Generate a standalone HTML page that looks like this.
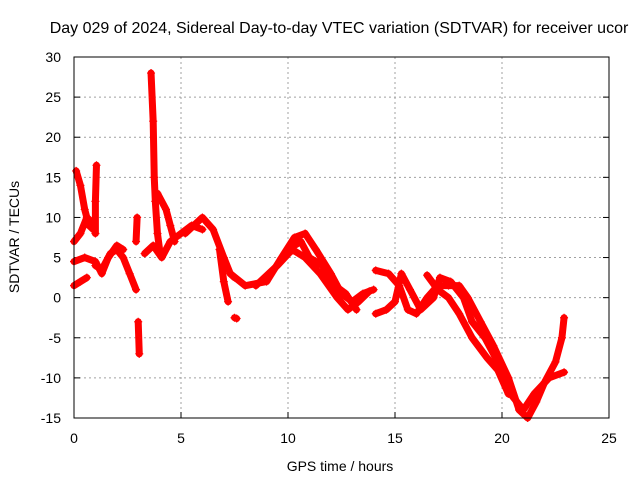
<!DOCTYPE html>
<html><head><meta charset="utf-8"><style>
body{margin:0;background:#fff}
svg{display:block;font-family:"Liberation Sans",sans-serif;font-size:14px}
</style></head><body>
<svg id="chart" width="640" height="480">
<text x="339" y="33" text-anchor="middle" font-size="16">Day 029 of 2024, Sidereal Day-to-day VTEC variation (SDTVAR) for receiver ucor</text>
<g id="grid"></g><g id="axes"></g><g id="series"></g>
<rect x="74" y="57" width="535" height="361" fill="none" stroke="#000" stroke-width="1"/>
<text x="340" y="471" text-anchor="middle">GPS time / hours</text>
<text transform="translate(19,237) rotate(-90)" text-anchor="middle">SDTVAR / TECUs</text>
</svg>
<script>
const xTicks=[0,5,10,15,20,25];
const yTicks=[-15,-10,-5,0,5,10,15,20,25,30];
const s1=[[7.3,3],[8,1.5],[9,2],[9.7,5],[10.3,7.5],[10.8,8],[11.3,6],[12,3],[12.5,0.5],[13,-0.5],[13.5,0.5],[14,1]];
const s2=[[8.5,1.5],[9.5,4],[10.2,6],[10.8,5],[11.5,3],[12.3,0],[12.8,-1.5],[13.3,-0.5],[13.8,0.8]];
const s3=[[14.1,3.4],[14.7,3],[15.2,1.5],[15.6,-1.5],[16,-2],[16.5,0],[17,1.5],[17.5,1.5],[18,1.5],[18.4,0],[19,-3],[19.6,-6],[20.3,-10],[20.8,-14],[21.2,-15],[21.6,-13],[22,-10.5],[22.5,-8],[22.8,-5],[22.9,-2.5]];
const s4=[[14.1,-2],[14.6,-1.5],[15,-0.5],[15.3,3],[15.7,1],[16.2,-1.5],[16.8,0],[17.1,2.5],[17.6,2],[18.2,0],[18.6,-3],[19.2,-5],[19.8,-8],[20.4,-12],[21,-14],[21.5,-12],[22.2,-10],[22.9,-9.3]];
const s5=[[16.5,2.8],[17,1],[17.5,0],[18,-2],[18.6,-5],[19.3,-7.5],[19.8,-9],[20.3,-12]];
const s6=[[10,6],[10.6,7],[11,5],[11.6,4],[12.2,1.5],[12.7,0.5],[13.2,-1.5]];
const s7=[[0.1,15.8],[0.3,14],[0.5,11],[0.7,9],[0.9,8.5]];
const s8=[[0,7],[0.3,8],[0.6,10],[0.8,9.5]];
const s9=[[0,4.5],[0.5,5],[1,4.5],[1.3,3],[1.6,5],[2,6.5],[2.3,6]];
const s10=[[0,1.5],[0.3,2],[0.6,2.5]];
const s11=[[1,8],[1,12],[1.05,16.5]];
const s12=[[1,4],[1.3,3.5],[1.7,5.5],[2,6],[2.3,5],[2.6,3],[2.9,1]];
const s13=[[2.9,7],[2.95,10]];
const s14=[[3,-3],[3.05,-7]];
const s15=[[3.6,28],[3.7,22],[3.75,15],[3.8,12],[3.9,8],[4,6]];
const s16=[[3.3,5.5],[3.7,6.5],[4.1,5],[4.5,7],[5,8],[5.5,9],[6,8.5]];
const s17=[[3.9,13],[4.3,11],[4.5,9],[4.7,7]];
const s18=[[5.2,8],[6,10],[6.5,8.5],[7,5],[7.3,3],[7.5,2.5]];
const s19=[[6.8,6],[7,2],[7.2,-0.5]];
const s20=[[7.5,-2.5],[7.6,-2.6]];
const allSeries=[s1,s2,s3,s4,s5,s6,s7,s8,s9,s10,s11,s12,s13,s14,s15,s16,s17,s18,s19,s20];
const NS="http://www.w3.org/2000/svg";
const X=v=>74+v*(535/25), Y=v=>418-(v+15)*(361/45);
const grid=document.getElementById('grid'),axes=document.getElementById('axes'),ser=document.getElementById('series');
function mk(t,a,p){const e=document.createElementNS(NS,t);for(const k in a)e.setAttribute(k,a[k]);p.appendChild(e);return e;}
xTicks.forEach(t=>{
 if(t>0&&t<25){const g=mk('line',{x1:X(t),x2:X(t),y1:57,y2:418,stroke:'#a0a0a0','stroke-dasharray':'2,3'},grid);
 
 }
 mk('line',{x1:X(t),x2:X(t),y1:418,y2:412,stroke:'#000'},axes);
 const l=mk('text',{x:X(t),y:443,'text-anchor':'middle'},axes);l.textContent=t;
 
 
});
yTicks.forEach(t=>{
 if(t>-15&&t<30){const g=mk('line',{x1:74,x2:609,y1:Y(t),y2:Y(t),stroke:'#a0a0a0','stroke-dasharray':'2,3'},grid);
 
 }
 mk('line',{x1:74,x2:80,y1:Y(t),y2:Y(t),stroke:'#000'},axes);
 mk('line',{x1:609,x2:603,y1:Y(t),y2:Y(t),stroke:'#000'},axes);
 const l=mk('text',{x:61,y:Y(t)+5,'text-anchor':'end'},axes);l.textContent=t;
 
 
});
allSeries.forEach((s,i)=>{
 const p=mk('polyline',{points:s.map(d=>X(d[0])+','+Y(d[1])).join(' '),fill:'none',stroke:'#ff0000','stroke-width':7,'stroke-linejoin':'round','stroke-linecap':'round'},ser);
 
 
 s.forEach(d=>{
  const m=mk('path',{d:`M${X(d[0])-4},${Y(d[1])}h8M${X(d[0])},${Y(d[1])-4}v8`,stroke:'#ff0000','stroke-width':1.2},ser);
  
  
 });
});
</script>
</body></html>
